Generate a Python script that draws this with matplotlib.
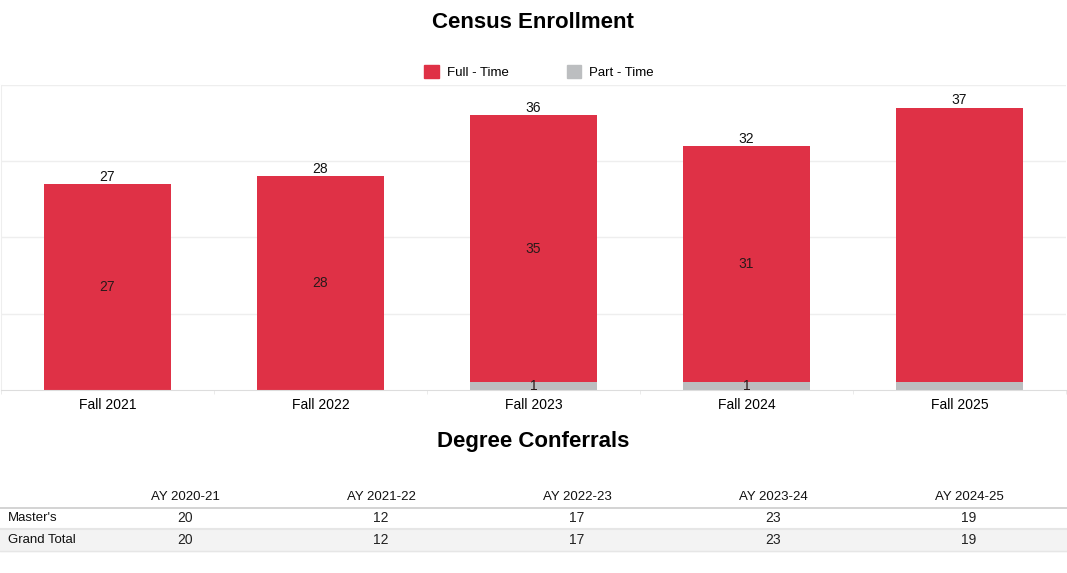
import numpy as np
import matplotlib.pyplot as plt
from matplotlib.patches import Patch, Rectangle

plt.rcParams['font.family'] = ['Liberation Sans', 'DejaVu Sans']

# census data
terms = ["Fall 2021", "Fall 2022", "Fall 2023", "Fall 2024", "Fall 2025"]
full_time = [27, 28, 35, 31, 36]
part_time = [0, 0, 1, 1, 1]
totals = [27, 28, 36, 32, 37]
show_inside = [True, True, True, True, False]

# degree table
years = ["AY 2020-21", "AY 2021-22", "AY 2022-23", "AY 2023-24", "AY 2024-25"]
row_names = ["Master's", "Grand Total"]
masters = [20, 12, 17, 23, 19]
grand_total = [20, 12, 17, 23, 19]

red = '#DF3146'
gray = '#BCBEC0'
W, H = 1067, 573

fig = plt.figure(figsize=(W / 100, H / 100), dpi=100)

ax = fig.add_axes([1 / W, (H - 390) / H, 1065 / W, 305 / H])
x = np.arange(len(terms))
ax.bar(x, part_time, 0.6, color=gray, zorder=2)
ax.bar(x, full_time, 0.6, bottom=part_time, color=red, zorder=2)
for i in x:
    ax.text(i, totals[i] + 0.05, str(totals[i]), ha='center', va='bottom', fontsize=10, color='#111111')
    if show_inside[i]:
        ax.text(i, part_time[i] + full_time[i] / 2, str(full_time[i]), ha='center', va='center',
                fontsize=10, color='#2a1a1a')
        if part_time[i] > 0:
            ax.text(i, part_time[i] / 2, str(part_time[i]), ha='center', va='center',
                    fontsize=10, color='#2a1a1a')
ax.set_xlim(-0.5, 4.5)
ax.set_ylim(0, 40)
ax.set_yticks([10, 20, 30, 40])
ax.yaxis.grid(True, color='#eeeeee', linewidth=1)
ax.set_axisbelow(True)
ax.tick_params(axis='y', left=False, labelleft=False)
ax.set_xticks(x)
ax.set_xticklabels(terms, fontsize=10)
ax.tick_params(axis='x', length=0, pad=6)
ax.set_xticks(np.arange(-0.5, 5, 1), minor=True)
ax.tick_params(axis='x', which='minor', length=3, color='#e8e8e8')
for s in ['top', 'right']:
    ax.spines[s].set_visible(False)
ax.spines['left'].set_color('#eeeeee')
ax.spines['bottom'].set_color('#dddddd')

fig.text(533 / W, 1 - 23 / H, "Census Enrollment", ha='center', va='center', fontsize=16, fontweight='bold')
fig.text(533 / W, 1 - 441 / H, "Degree Conferrals", ha='center', va='center', fontsize=16, fontweight='bold')

handles = [Patch(color=red, label='Full - Time'), Patch(color=gray, label='Part - Time')]
fig.legend(handles=handles, loc='center', bbox_to_anchor=(539 / W, 1 - 72 / H), ncol=2, frameon=False,
           fontsize=9.5, handlelength=1.1, handleheight=1.1, handletextpad=0.6, columnspacing=4.4)

# table drawn in its own axes, columns on index positions
tx = fig.add_axes([0, (H - 555) / H, 1, 70 / H])
tx.set_xlim(-185 / 196, (W - 185) / 196)
tx.set_ylim(555, 485)
tx.axis('off')
tx.add_patch(Rectangle((-185 / 196, 530), 10, 21, color='#f3f3f3', zorder=0))
tx.plot([-185 / 196, 4.5], [507.5, 507.5], color='#cccccc', lw=1.2)
tx.plot([-185 / 196, 4.5], [529, 529], color='#e6e6e6', lw=1.5)
tx.plot([-185 / 196, 4.5], [551, 551], color='#e6e6e6', lw=1)
for j, yr in enumerate(years):
    tx.text(j, 497, yr, ha='center', va='center', fontsize=9.5, color='#111111')
    tx.text(j, 518, str(masters[j]), ha='center', va='center', fontsize=10, color='#222222')
    tx.text(j, 540, str(grand_total[j]), ha='center', va='center', fontsize=10, color='#222222')
tx.text(-177 / 196, 518, row_names[0], ha='left', va='center', fontsize=9.5, color='#111111')
tx.text(-177 / 196, 540, row_names[1], ha='left', va='center', fontsize=9.5, color='#111111')

fig.savefig('out.png', dpi=100)
